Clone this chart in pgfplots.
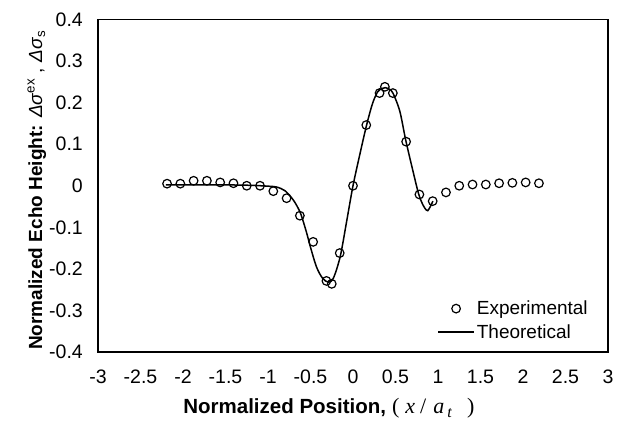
\documentclass[border=0pt]{standalone}
\usepackage{fontspec}
\setmainfont{Liberation Sans}
\newfontfamily\timesit[ItalicFont={Liberation Serif Italic}]{Liberation Serif}
\usepackage{pgfplots}
\pgfplotsset{compat=1.18}
\pgfplotsset{
  markleg/.style={legend image code/.code={\draw[##1] plot coordinates {(18bp,0bp)};}},
  lineleg/.style={legend image code/.code={\draw[##1] (0bp,0bp) -- (36bp,0bp);}},
}
\begin{document}
\begin{tikzpicture}
\begin{axis}[
  scale only axis,
  width=510bp, height=332.5bp,
  xmin=-3, xmax=3, ymin=-0.4, ymax=0.4,
  xtick={-3,-2.5,...,3},
  ytick={-0.4,-0.3,...,0.4},
  xticklabels={-3,-2.5,-2,-1.5,-1,-0.5,0,0.5,1,1.5,2,2.5,3},
  yticklabels={-0.4,-0.3,-0.2,-0.1,0,0.1,0.2,0.3,0.4},
  major tick length=0pt,
  axis line style={line width=1.2bp},
  tick label style={font=\fontsize{19.5bp}{21bp}\selectfont, inner sep=0pt},
  yticklabel style={anchor=east, xshift=-15bp},
  xticklabel style={anchor=north, yshift=-18bp},
  xlabel={\textbf{Normalized Position,}\hspace{6bp}{\timesit\fontsize{22bp}{24bp}\selectfont (\hspace{6bp}\textit{x}\hspace{5bp}/\hspace{7bp}\textit{a}\hspace{3bp}\raisebox{-4bp}{\fontsize{16bp}{18bp}\selectfont\textit{t}}\hspace{15bp})}},
  xlabel style={font=\fontsize{20.5bp}{22bp}\selectfont, at={(axis description cs:0.167,-0.1835)}, anchor=base west, inner sep=0pt},
  ylabel={\textbf{Normalized Echo Height:} \textit{Δσ}\textsuperscript{ex} , \textit{Δσ}\textsubscript{s}},
  ylabel style={font=\fontsize{19bp}{21bp}\selectfont, at={(axis description cs:-0.1098,0.006)}, anchor=base west, inner sep=0pt},
  legend style={draw=none, fill=none, font=\fontsize{19bp}{21bp}\selectfont,
    at={(axis description cs:0.665,0.16)}, anchor=north west,
    row sep=4bp, inner sep=0pt},
  legend cell align={left},
]
\addplot[only marks, mark=o, mark size=4.3bp, line width=1.2bp, black, markleg]
  coordinates {
  (-2.1875,0.005)(-2.03125,0.005)(-1.875,0.012)(-1.71875,0.012)(-1.5625,0.008)
  (-1.40625,0.006)(-1.25,0.000)(-1.09375,0.000)(-0.9375,-0.013)(-0.78125,-0.030)
  (-0.625,-0.072)(-0.46875,-0.135)(-0.3125,-0.229)(-0.25,-0.236)(-0.15625,-0.162)
  (0,0.000)(0.15625,0.146)(0.3125,0.223)(0.375,0.238)(0.46875,0.223)
  (0.625,0.106)(0.78125,-0.021)(0.9375,-0.037)(1.09375,-0.016)(1.25,0.000)
  (1.40625,0.003)(1.5625,0.003)(1.71875,0.006)(1.875,0.007)(2.03125,0.008)
  (2.1875,0.006)
  };
\addlegendentry{Experimental}
\addplot[no marks, smooth, line width=1.5bp, black, lineleg]
  coordinates {
  (-2.2,0.002)(-1.5,0.002)(-1.2,0.001)(-1.0,-0.001)(-0.9,-0.003)(-0.8,-0.012)
  (-0.7,-0.035)(-0.62,-0.065)(-0.55,-0.11)(-0.5,-0.148)(-0.43,-0.195)
  (-0.36,-0.222)(-0.29,-0.232)(-0.23,-0.222)(-0.15,-0.17)(-0.075,-0.086)
  (0,0)(0.08,0.075)(0.16,0.146)(0.23,0.198)(0.29,0.226)(0.34,0.234)
  (0.38,0.236)(0.43,0.232)(0.47,0.223)(0.55,0.18)(0.62,0.110)(0.7,0.04)
  (0.77,-0.018)(0.82,-0.045)(0.86,-0.058)(0.88,-0.060)(0.91,-0.050)(0.94,-0.037)
  };
\addlegendentry{Theoretical}
\end{axis}
\pgfresetboundingbox
\path[use as bounding box] (-98bp,-78bp) rectangle (526bp,352bp);
\end{tikzpicture}
\end{document}
